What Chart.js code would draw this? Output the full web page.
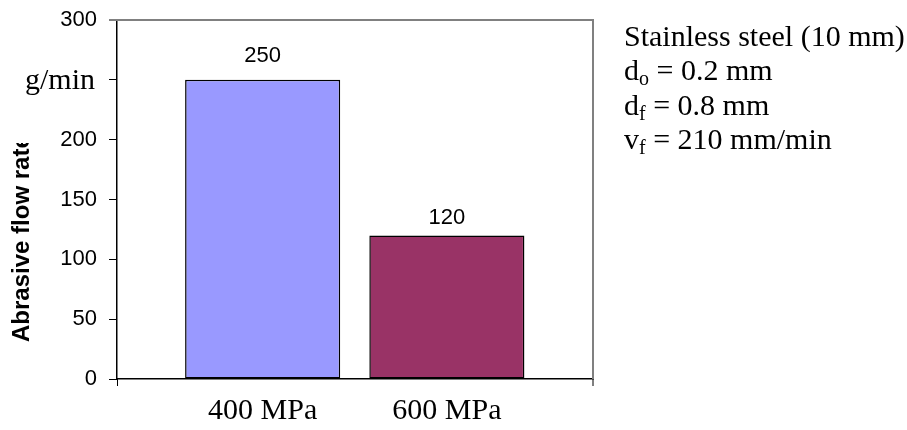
<!DOCTYPE html>
<html>
<head>
<meta charset="utf-8">
<script src="https://cdn.jsdelivr.net/npm/chart.js@4/dist/chart.umd.min.js"></script>
<style>
  html, body { margin: 0; padding: 0; background: #fff; }
  #wrap { position: relative; width: 907px; height: 430px; }
</style>
</head>
<body>
<div id="wrap"><canvas id="c" width="907" height="430"></canvas></div>
<script>
// ---- data ----
const categories = ['400 MPa', '600 MPa'];
const flowRates = [250, 120];
const yTicks = [0, 50, 100, 150, 200, 250, 300];
// the 250 label is left blank: the unit text sits on that line
const yTickLabels = ['0', '50', '100', '150', '200', '', '300'];
const yTitle = 'Abrasive flow rate';
const yUnit = 'g/min';
// process notes, each line split into runs (sub = subscript)
const noteLines = [
  [{ t: 'Stainless steel (10 mm)' }],
  [{ t: 'd' }, { t: 'o', sub: true }, { t: ' = 0.2 mm' }],
  [{ t: 'd' }, { t: 'f', sub: true }, { t: ' = 0.8 mm' }],
  [{ t: 'v' }, { t: 'f', sub: true }, { t: ' = 210 mm/min' }]
];

// ---- layout / style ----
const barColors = ['#9999FF', '#993366'];
const barSlots = [0.306, 0.693];       // bar centres along the x range 0..1
const valueLift = [18, 11];            // gap between bar top and its value label
const SERIF = '"Liberation Serif", "Times New Roman", serif';
const SANS = '"Liberation Sans", Arial, sans-serif';

const framePlugin = {
  id: 'frame',
  afterDraw(chart) {
    const { ctx, chartArea: a } = chart;
    ctx.save();
    ctx.strokeStyle = '#808080';
    ctx.lineWidth = 2;
    ctx.beginPath();
    ctx.moveTo(a.left - 8, a.top);
    ctx.lineTo(a.right, a.top);
    ctx.lineTo(a.right, a.bottom);
    ctx.stroke();
    // end tick marks below the category axis
    ctx.strokeStyle = '#000';
    ctx.lineWidth = 1;
    ctx.beginPath();
    ctx.moveTo(a.left + 0.5, a.bottom);
    ctx.lineTo(a.left + 0.5, a.bottom + 7);
    ctx.moveTo(a.right, a.bottom);
    ctx.lineTo(a.right, a.bottom + 7);
    ctx.stroke();
    ctx.restore();
  }
};

const valueLabels = {
  id: 'valueLabels',
  afterDatasetsDraw(chart) {
    const { ctx } = chart;
    const meta = chart.getDatasetMeta(0);
    ctx.save();
    ctx.font = '22px ' + SANS;
    ctx.fillStyle = '#000';
    ctx.textAlign = 'center';
    ctx.textBaseline = 'alphabetic';
    meta.data.forEach((bar, i) => {
      ctx.fillText(String(flowRates[i]), bar.x, bar.y - valueLift[i]);
    });
    ctx.restore();
  }
};

const sideText = {
  id: 'sideText',
  afterDraw(chart) {
    const { ctx, chartArea: a } = chart;
    ctx.save();
    // rotated axis title, cut off where the unit label sits
    ctx.beginPath();
    ctx.rect(0, 143, a.left, a.bottom - 143);
    ctx.clip();
    ctx.translate(29, 342);
    ctx.rotate(-Math.PI / 2);
    ctx.font = 'bold 24px ' + SANS;
    ctx.fillStyle = '#000';
    ctx.textAlign = 'left';
    ctx.textBaseline = 'alphabetic';
    ctx.fillText(yTitle, 0, 0);
    ctx.restore();

    ctx.save();
    ctx.fillStyle = '#000';
    ctx.textBaseline = 'alphabetic';
    ctx.textAlign = 'left';
    ctx.font = '30px ' + SERIF;
    ctx.fillText(yUnit, 25, 89);

    // notes block to the right of the plot
    const baselines = [46, 80, 115, 149];
    noteLines.forEach((runs, li) => {
      let x = 624;
      runs.forEach(r => {
        ctx.font = (r.sub ? '20px ' : '30px ') + SERIF;
        const y = baselines[li] + (r.sub ? 5 : 0);
        ctx.fillText(r.t, x, y);
        x += ctx.measureText(r.t).width;
      });
    });
    ctx.restore();
  }
};

new Chart(document.getElementById('c').getContext('2d'), {
  type: 'bar',
  data: {
    datasets: [{
      data: categories.map((c, i) => ({ x: barSlots[i], y: flowRates[i] })),
      backgroundColor: barColors,
      borderColor: '#000',
      borderWidth: 1.5,
      borderSkipped: false,
      barPercentage: 0.842,
      categoryPercentage: 1
    }]
  },
  options: {
    responsive: false,
    animation: false,
    devicePixelRatio: 1,
    layout: { padding: { left: 0, top: 20, right: 314, bottom: 0 } },
    plugins: { legend: { display: false }, tooltip: { enabled: false } },
    scales: {
      x: {
        type: 'linear',
        min: 0,
        max: 1,
        offset: false,
        grid: { display: false, drawTicks: false, offset: false },
        border: { display: true, color: '#000', width: 1.5 },
        afterBuildTicks: s => { s.ticks = barSlots.map(v => ({ value: v })); },
        ticks: {
          callback: (v, i) => categories[i],
          font: { family: SERIF, size: 30 },
          color: '#000',
          padding: 14,
          maxRotation: 0,
          autoSkip: false
        },
        afterFit: s => { s.height = 51; }
      },
      y: {
        min: 0,
        max: 300,
        afterBuildTicks: s => { s.ticks = yTicks.map(v => ({ value: v })); },
        grid: {
          drawOnChartArea: false,
          tickLength: 8,
          color: c => (c.tick && c.tick.value === 300 ? '#808080' : '#000'),
          lineWidth: 1
        },
        border: { color: '#000', width: 1.5 },
        ticks: {
          callback: (v, i) => yTickLabels[i],
          font: { family: SANS, size: 22 },
          color: '#000',
          padding: 12
        },
        afterFit: s => { s.width = 117; s.paddingTop = 0; s.paddingBottom = 0; }
      }
    }
  },
  plugins: [framePlugin, valueLabels, sideText]
});
</script>
</body>
</html>
